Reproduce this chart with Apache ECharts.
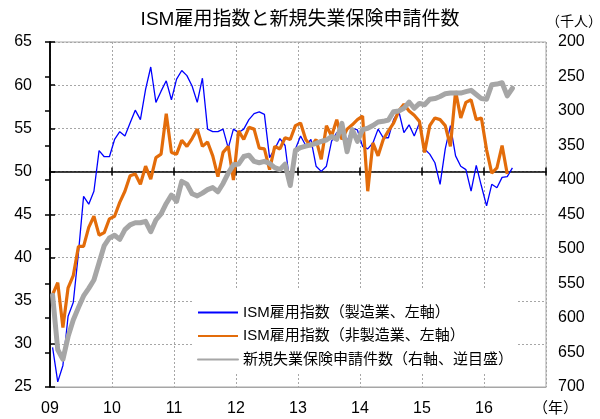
<!DOCTYPE html>
<html>
<head>
<meta charset="utf-8">
<script src="https://cdn.jsdelivr.net/npm/echarts@6/dist/echarts.min.js"></script>
<style>
  html, body { margin: 0; padding: 0; background: #fff; }
  #chart { width: 600px; height: 419px; }
</style>
</head>
<body>
<div id="chart"></div>
<script>
// 月次データ 2009年1月～2016年6月
const yearLabels = ['09', '10', '11', '12', '13', '14', '15', '16']

// ISM雇用指数（製造業）
const ismMfg = [
  29.6, 25.6, 27.5, 33.2, 34.8, 40.5, 47.1, 46.2, 47.7, 52.4, 51.7, 51.7,
  53.7, 54.6, 54.1, 55.6, 57.1, 56.0, 59.5, 62.1, 58.0, 59.3, 60.5, 58.3,
  60.7, 61.7, 61.1, 59.9, 58.0, 60.8, 54.9, 54.6, 54.6, 54.9, 52.7, 54.9,
  54.5, 54.9, 56.0, 56.7, 56.9, 56.6, 51.6, 52.6, 53.8, 53.0, 48.3, 52.6,
  54.1, 53.0, 53.7, 50.6, 50.0, 50.6, 53.5, 54.5, 54.5, 53.5, 55.0, 54.8,
  52.9, 52.6, 53.3, 54.9, 53.9, 53.9, 56.0, 57.0, 54.5, 55.4, 54.1, 55.6,
  52.6, 52.0, 51.0, 48.5, 52.6, 55.3, 51.8, 50.6, 50.2, 47.7, 50.7, 48.3,
  46.0, 48.5, 48.1, 49.3, 49.4, 50.4
]

// ISM雇用指数（非製造業）
const ismNonMfg = [
  35.7, 37.1, 31.9, 36.5, 37.9, 41.3, 41.3, 43.5, 44.8, 42.6, 42.9, 44.5,
  44.8, 46.4, 47.7, 49.5, 49.7, 48.5, 50.6, 49.1, 51.6, 52.0, 56.7, 52.2,
  52.0, 53.6, 52.9, 53.8, 54.9, 52.9, 53.4, 51.8, 49.4, 52.2, 52.9, 49.0,
  54.7, 53.7, 55.1, 54.9, 52.7, 52.6, 50.2, 52.9, 52.6, 53.9, 53.7, 55.3,
  55.6, 53.7, 52.9, 53.7, 51.4, 55.3, 54.1, 56.0, 53.7, 54.9, 55.4, 56.0,
  56.4, 47.7, 53.3, 51.8, 53.7, 54.7, 55.6, 57.0, 57.8, 57.0, 56.5, 55.8,
  52.2, 55.3, 56.2, 56.0, 55.3, 52.9, 59.3, 56.2, 58.0, 58.3, 56.0, 56.2,
  52.5, 49.8, 50.4, 53.0, 49.7
]

// 新規失業保険申請件数（千人）
const claims = [
  567, 646, 660, 627, 603, 585, 568, 557, 545, 520, 495, 484,
  480, 486, 472, 465, 462, 462, 460, 475, 458, 449, 434, 422,
  431, 402, 406, 420, 423, 419, 414, 411, 417, 405, 390, 378,
  377, 366, 364, 373, 375, 373, 376, 382, 385, 377, 408, 357,
  353, 351, 349, 347, 344, 342, 337, 341, 318, 359, 327, 344,
  327, 325, 321, 316, 315, 313, 301, 300, 296, 287, 296, 289,
  291, 283, 282, 279, 275, 274, 274, 274, 272, 270, 276, 282,
  283, 262, 261, 259, 278, 267
]

const leftTicks = [25, 65, 5]
const rightTicks = [200, 700, 50]

const GRID = { left: 50, right: 54, top: 42, bottom: 32 }
const plotH = 419 - GRID.top - GRID.bottom
// 50のラインまでの距離
const lineOffset = -plotH * (50 - leftTicks[0]) / (leftTicks[1] - leftTicks[0])

const FONT = "'Liberation Sans', Arial, 'Noto Sans CJK JP', sans-serif"
const toPoints = arr => arr.map((v, i) => [i + 0.5, v])

const chart = echarts.init(document.getElementById('chart'))

const hiddenX = {
  type: 'value', min: 0, max: 96, interval: 12,
  position: 'bottom', offset: lineOffset,
  axisLabel: { show: false }, splitLine: { show: false }
}

chart.setOption({
  animation: false,
  textStyle: { fontFamily: FONT, color: '#000' },
  title: {
    text: 'ISM雇用指数と新規失業保険申請件数',
    left: 'center', top: 5,
    textStyle: { fontFamily: FONT, fontSize: 19, fontWeight: 'normal', color: '#000' }
  },
  grid: Object.assign({ show: true, borderColor: '#a6a6a6', borderWidth: 1 }, GRID),
  legend: {
    orient: 'vertical',
    left: 192, top: 288,
    padding: [17, 5, 7, 5],
    backgroundColor: '#fff',
    itemWidth: 40, itemHeight: 15, itemGap: 8.5,
    itemStyle: { opacity: 0 },
    textStyle: { fontFamily: FONT, fontSize: 15, color: '#000' },
    data: ['ISM雇用指数（製造業、左軸）', 'ISM雇用指数（非製造業、左軸）', '新規失業保険申請件数（右軸、逆目盛）']
  },
  xAxis: [
    {
      type: 'value', min: 0, max: 96, interval: 12,
      axisLine: { lineStyle: { color: '#a6a6a6', width: 1 } },
      axisTick: { show: false },
      axisLabel: {
        fontSize: 16, color: '#000', margin: 14, showMinLabel: true, showMaxLabel: false,
        formatter: v => (v < 96 ? yearLabels[v / 12] : '')
      },
      splitLine: { show: true, lineStyle: { color: '#a6a6a6', type: [2, 2], width: 1 } }
    },
    Object.assign({}, hiddenX, {
      axisLine: { show: true, lineStyle: { color: '#000', width: 1.5 } },
      axisTick: { show: true, inside: true, length: 4, lineStyle: { color: '#000', width: 1.5 } }
    }),
    Object.assign({}, hiddenX, {
      axisLine: { show: false },
      axisTick: { show: true, inside: false, length: 4, lineStyle: { color: '#000', width: 1.5 } }
    })
  ],
  yAxis: [
    {
      type: 'value', position: 'left',
      min: leftTicks[0], max: leftTicks[1], interval: leftTicks[2],
      axisLine: { show: true, lineStyle: { color: '#000', width: 1.5 } },
      axisTick: { show: true, inside: true, length: 5, lineStyle: { color: '#000', width: 1.5 } },
      axisLabel: { fontSize: 16, color: '#000', margin: 18 },
      splitLine: { show: true, lineStyle: { color: '#a6a6a6', type: [2, 2], width: 1 } }
    },
    {
      type: 'value', position: 'right', inverse: true,
      min: rightTicks[0], max: rightTicks[1], interval: rightTicks[2],
      axisLine: { show: true, lineStyle: { color: '#000', width: 1.5 } },
      axisTick: { show: true, inside: true, length: 5, lineStyle: { color: '#000', width: 1.5 } },
      axisLabel: { fontSize: 16, color: '#000', margin: 12 },
      splitLine: { show: false }
    }
  ],
  graphic: [
    { type: 'text', left: 546, top: 15, style: { text: '（千人）', font: '14px ' + FONT, fill: '#000' } },
    { type: 'text', left: 533, top: 401, style: { text: '（年）', font: '15px ' + FONT, fill: '#000' } }
  ],
  series: [
    {
      name: 'ISM雇用指数（製造業、左軸）', type: 'line', yAxisIndex: 0,
      symbol: 'none', data: toPoints(ismMfg),
      lineStyle: { color: '#0000ff', width: 1.3 }, itemStyle: { color: '#0000ff' }
    },
    {
      name: 'ISM雇用指数（非製造業、左軸）', type: 'line', yAxisIndex: 0,
      symbol: 'none', data: toPoints(ismNonMfg),
      lineStyle: { color: '#e36c0a', width: 3.2 }, itemStyle: { color: '#e36c0a' }
    },
    {
      name: '新規失業保険申請件数（右軸、逆目盛）', type: 'line', yAxisIndex: 1,
      symbol: 'none', data: toPoints(claims),
      lineStyle: { color: '#a6a6a6', width: 5, cap: 'round', join: 'round' }, itemStyle: { color: '#a6a6a6' }
    }
  ]
})
</script>
</body>
</html>
